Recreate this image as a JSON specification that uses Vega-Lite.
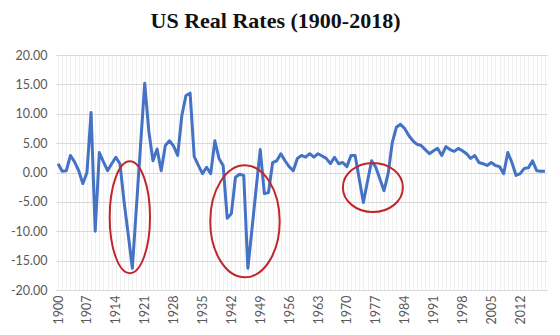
{
  "$schema": "https://vega.github.io/schema/vega-lite/v6.json",
  "width": 491,
  "height": 235,
  "autosize": {"type": "none"},
  "padding": {"left": 56, "top": 55, "right": 13, "bottom": 45},
  "background": "white",
  "title": {"text": "US Real Rates (1900-2018)", "font": "Liberation Serif", "fontSize": 22, "fontWeight": "bold", "color": "#111111", "anchor": "middle", "offset": 16, "dx": -26},
  "config": {
    "view": {"stroke": null},
    "locale": {"number": {"decimal": ".", "thousands": ",", "grouping": [3], "currency": ["$", ""], "minus": "-"}}
  },
  "encoding": {
    "x": {
      "field": "year", "type": "quantitative",
      "scale": {"domain": [1899.5, 2018.5], "nice": false, "zero": false},
      "axis": {
        "title": null,
        "values": [1900,1901,1902,1903,1904,1905,1906,1907,1908,1909,1910,1911,1912,1913,1914,1915,1916,1917,1918,1919,1920,1921,1922,1923,1924,1925,1926,1927,1928,1929,1930,1931,1932,1933,1934,1935,1936,1937,1938,1939,1940,1941,1942,1943,1944,1945,1946,1947,1948,1949,1950,1951,1952,1953,1954,1955,1956,1957,1958,1959,1960,1961,1962,1963,1964,1965,1966,1967,1968,1969,1970,1971,1972,1973,1974,1975,1976,1977,1978,1979,1980,1981,1982,1983,1984,1985,1986,1987,1988,1989,1990,1991,1992,1993,1994,1995,1996,1997,1998,1999,2000,2001,2002,2003,2004,2005,2006,2007,2008,2009,2010,2011,2012,2013,2014,2015,2016,2017,2018],
        "labelExpr": "(datum.value - 1900) % 7 == 0 ? '' + datum.value : ''",
        "labelOverlap": false,
        "labelAngle": -90,
        "labelAlign": "right",
        "labelBaseline": "middle",
        "labelPadding": 5,
        "labelFont": "Lato",
        "labelFontSize": 12.5,
        "labelColor": "#595959",
        "ticks": false,
        "domain": true,
        "domainColor": "#d9d9d9",
        "grid": true,
        "gridColor": "#f0f0f0",
        "gridWidth": 1
      }
    },
    "y": {
      "field": "value", "type": "quantitative",
      "scale": {"domain": [-20, 20], "nice": false},
      "axis": {
        "title": null,
        "values": [-20, -15, -10, -5, 0, 5, 10, 15, 20],
        "format": ".2f",
        "labelOverlap": false,
        "ticks": false,
        "domain": false,
        "grid": true,
        "gridColor": "#d9d9d9",
        "labelPadding": 9,
        "labelFont": "Lato",
        "labelFontSize": 12.5,
        "labelColor": "#595959"
      }
    }
  },
  "layer": [
    {
      "data": {"values": [
        {"year":1900,"value":1.5},{"year":1901,"value":0.2},{"year":1902,"value":0.3},{"year":1903,"value":2.9},{"year":1904,"value":1.8},
        {"year":1905,"value":0.3},{"year":1906,"value":-1.9},{"year":1907,"value":0.0},{"year":1908,"value":10.2},{"year":1909,"value":-10.0},
        {"year":1910,"value":3.4},{"year":1911,"value":1.8},{"year":1912,"value":0.3},{"year":1913,"value":1.5},{"year":1914,"value":2.6},
        {"year":1915,"value":1.5},{"year":1916,"value":-5.0},{"year":1917,"value":-10.5},{"year":1918,"value":-16.3},{"year":1919,"value":-5.8},
        {"year":1920,"value":4.7},{"year":1921,"value":15.2},{"year":1922,"value":7.0},{"year":1923,"value":2.0},{"year":1924,"value":4.0},
        {"year":1925,"value":0.3},{"year":1926,"value":4.6},{"year":1927,"value":5.4},{"year":1928,"value":4.5},{"year":1929,"value":2.9},
        {"year":1930,"value":9.7},{"year":1931,"value":13.1},{"year":1932,"value":13.5},{"year":1933,"value":2.7},{"year":1934,"value":1.2},
        {"year":1935,"value":-0.2},{"year":1936,"value":0.9},{"year":1937,"value":-0.2},{"year":1938,"value":5.4},{"year":1939,"value":2.4},
        {"year":1940,"value":1.2},{"year":1941,"value":-7.8},{"year":1942,"value":-7.0},{"year":1943,"value":-0.8},{"year":1944,"value":-0.3},
        {"year":1945,"value":-0.5},{"year":1946,"value":-16.3},{"year":1947,"value":-9.6},{"year":1948,"value":-2.8},{"year":1949,"value":3.9},
        {"year":1950,"value":-3.6},{"year":1951,"value":-3.4},{"year":1952,"value":1.7},{"year":1953,"value":2.0},{"year":1954,"value":3.2},
        {"year":1955,"value":2.0},{"year":1956,"value":1.0},{"year":1957,"value":0.3},{"year":1958,"value":2.4},{"year":1959,"value":2.9},
        {"year":1960,"value":2.6},{"year":1961,"value":3.2},{"year":1962,"value":2.6},{"year":1963,"value":3.2},{"year":1964,"value":2.8},
        {"year":1965,"value":2.4},{"year":1966,"value":1.5},{"year":1967,"value":2.6},{"year":1968,"value":1.5},{"year":1969,"value":1.7},
        {"year":1970,"value":1.0},{"year":1971,"value":2.9},{"year":1972,"value":2.9},{"year":1973,"value":-1.1},{"year":1974,"value":-5.1},
        {"year":1975,"value":-1.5},{"year":1976,"value":2.0},{"year":1977,"value":0.9},{"year":1978,"value":-1.1},{"year":1979,"value":-3.1},
        {"year":1980,"value":-0.2},{"year":1981,"value":5.1},{"year":1982,"value":7.7},{"year":1983,"value":8.2},{"year":1984,"value":7.5},
        {"year":1985,"value":6.3},{"year":1986,"value":5.4},{"year":1987,"value":4.8},{"year":1988,"value":4.6},{"year":1989,"value":3.9},
        {"year":1990,"value":3.2},{"year":1991,"value":3.7},{"year":1992,"value":4.1},{"year":1993,"value":2.9},{"year":1994,"value":4.4},
        {"year":1995,"value":3.9},{"year":1996,"value":3.6},{"year":1997,"value":4.1},{"year":1998,"value":3.7},{"year":1999,"value":3.2},
        {"year":2000,"value":2.4},{"year":2001,"value":2.9},{"year":2002,"value":1.7},{"year":2003,"value":1.5},{"year":2004,"value":1.2},
        {"year":2005,"value":1.7},{"year":2006,"value":1.2},{"year":2007,"value":1.0},{"year":2008,"value":-0.2},{"year":2009,"value":3.4},
        {"year":2010,"value":1.7},{"year":2011,"value":-0.5},{"year":2012,"value":-0.2},{"year":2013,"value":0.7},{"year":2014,"value":0.8},
        {"year":2015,"value":2.0},{"year":2016,"value":0.3},{"year":2017,"value":0.2},{"year":2018,"value":0.2}
      ]},
      "mark": {"type": "line", "color": "#4472C4", "strokeWidth": 3, "strokeJoin": "round"}
    },
    {
      "data": {"values": [{"year": 1917.4, "value": -7.6}]},
      "mark": {"type": "point", "shape": "M0,-1A0.36,1,0,1,1,0,1A0.36,1,0,1,1,0,-1Z", "size": 12544, "filled": false, "stroke": "#c0282d", "strokeWidth": 2, "opacity": 1}
    },
    {
      "data": {"values": [{"year": 1945.3, "value": -8.3}]},
      "mark": {"type": "point", "shape": "M0,-1A0.62,1,0,1,1,0,1A0.62,1,0,1,1,0,-1Z", "size": 12544, "filled": false, "stroke": "#c0282d", "strokeWidth": 2, "opacity": 1}
    },
    {
      "data": {"values": [{"year": 1976.3, "value": -2.55}]},
      "mark": {"type": "point", "shape": "M-1,0A1,0.82,0,1,1,1,0A1,0.82,0,1,1,-1,0Z", "size": 3600, "filled": false, "stroke": "#c0282d", "strokeWidth": 2, "opacity": 1}
    }
  ]
}
